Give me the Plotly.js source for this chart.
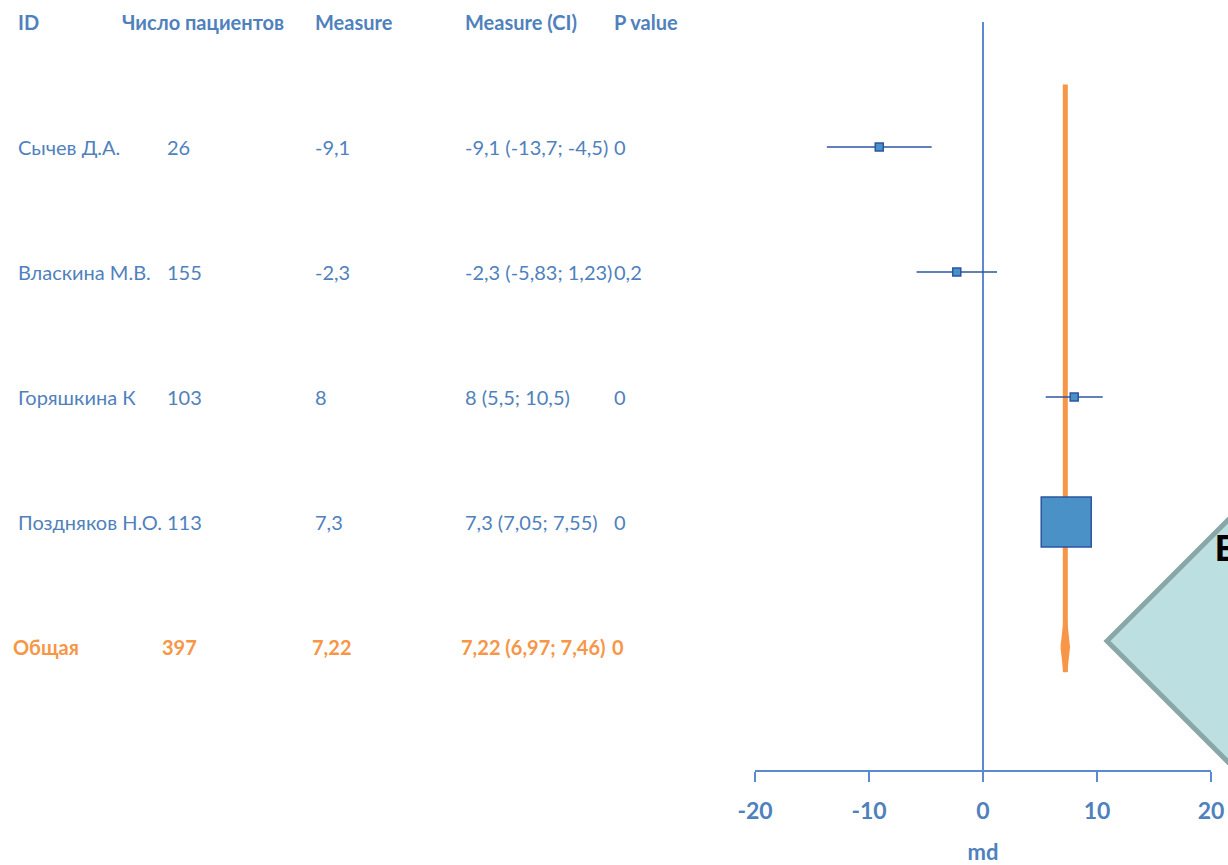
<!DOCTYPE html>
<html>
<head>
<meta charset="utf-8">
<script src="https://cdn.plot.ly/plotly-3.0.1.min.js"></script>
<style>
html,body{margin:0;padding:0;background:#fff;}
#chart{width:1228px;height:865px;}
</style>
</head>
<body>
<div id="chart"></div>
<script>
// ---- data ----
const headers = ["ID", "Число пациентов", "Measure", "Measure (CI)", "P value"];
const studies = ["Сычев Д.А.", "Власкина М.В.", "Горяшкина К", "Поздняков Н.О."];
const patients = [26, 155, 103, 113];
const measure = [-9.1, -2.3, 8, 7.3];
const ciLow = [-13.7, -5.83, 5.5, 7.05];
const ciHigh = [-4.5, 1.23, 10.5, 7.55];
const measureText = ["-9,1", "-2,3", "8", "7,3"];
const ciText = ["-9,1 (-13,7; -4,5)", "-2,3 (-5,83; 1,23)", "8 (5,5; 10,5)", "7,3 (7,05; 7,55)"];
const pText = ["0", "0,2", "0", "0"];
const overallLabel = "Общая";
const overallN = 397;
const overall = 7.22;
const overallLow = 6.97;
const overallHigh = 7.46;
const overallMeasureText = "7,22";
const overallCiText = "7,22 (6,97; 7,46)";
const overallP = "0";
const xTicks = [-20, -10, 0, 10, 20];

// ---- layout helpers ----
const W = 1228, H = 865;
const L = 755, R = 1211, T = 22, B = 770;
const px = v => (v - L) / (R - L);
const py = v => (B - v) / (B - T);
const blue = "#4F81BD";
const orange = "#F79646";
const FONT = "Lato, 'Open Sans', sans-serif";

const rows = studies.map((_, i) => i + 1);
const overallRow = studies.length + 1;

const traces = [
  {
    x: [overall, overall],
    y: [0.5, overallRow + 0.2],
    mode: "lines",
    line: {color: orange, width: 5},
    hoverinfo: "skip",
    showlegend: false
  },
  {
    x: [overallLow, overall, overallHigh, overall, overallLow],
    y: [overallRow, overallRow - 0.2, overallRow, overallRow + 0.2, overallRow],
    mode: "lines",
    fill: "toself",
    fillcolor: orange,
    line: {color: orange, width: 4},
    hoverinfo: "skip",
    showlegend: false
  },
  {
    x: measure,
    y: rows,
    mode: "markers",
    marker: {
      symbol: "square",
      size: [8, 8, 8, 50],
      opacity: 1,
      color: "#4A91C7",
      line: {color: "#2A55A0", width: 1.5}
    },
    error_x: {
      type: "data",
      symmetric: false,
      array: measure.map((m, i) => ciHigh[i] - m),
      arrayminus: measure.map((m, i) => m - ciLow[i]),
      color: "#2F55A3",
      thickness: 1.5,
      width: 0
    },
    showlegend: false
  }
];

const annotations = [];
const colX = [16, 120, 313, 463, 612];
headers.forEach((h, j) => {
  annotations.push({xref: "paper", yref: "y", x: px(colX[j]), y: 0, text: "<b>" + h + "</b>",
    showarrow: false, xanchor: "left", yanchor: "middle",
    font: {family: FONT, size: 20, color: blue}});
});
const dataX = [16, 165, 313, 463, 612];
studies.forEach((s, i) => {
  const vals = [s, String(patients[i]), measureText[i], ciText[i], pText[i]];
  vals.forEach((v, j) => {
    annotations.push({xref: "paper", yref: "y", x: px(dataX[j]), y: rows[i], text: v,
      showarrow: false, xanchor: "left", yanchor: "middle",
      font: {family: FONT, size: 20, color: blue}});
  });
});
const ovX = [11, 160, 310, 459, 610];
[overallLabel, String(overallN), overallMeasureText, overallCiText, overallP].forEach((v, j) => {
  annotations.push({xref: "paper", yref: "y", x: px(ovX[j]), y: overallRow, text: "<b>" + v + "</b>",
    showarrow: false, xanchor: "left", yanchor: "middle",
    font: {family: FONT, size: 20, color: orange}});
});
annotations.push({xref: "paper", yref: "paper", x: px(1213), y: py(548), text: "<b>E</b>",
  showarrow: false, xanchor: "left", yanchor: "middle",
  font: {family: "'Liberation Sans', Arial, sans-serif", size: 36, color: "#000"}});

const d = 220;
const shapes = [
  {
    type: "path", xref: "paper", yref: "paper", layer: "above",
    path: `M ${px(1107)} ${py(641)} L ${px(1107 + d)} ${py(641 - d)} L ${px(1107 + 2 * d)} ${py(641)} L ${px(1107 + d)} ${py(641 + d)} Z`,
    fillcolor: "#BCE0E2",
    line: {color: "#8AA7A8", width: 5}
  }
];

const layout = {
  width: W, height: H,
  margin: {l: L, r: W - R, t: T, b: H - B},
  paper_bgcolor: "#fff",
  plot_bgcolor: "#fff",
  showlegend: false,
  xaxis: {
    range: [-20, 20],
    tickvals: xTicks,
    ticktext: xTicks.map(String),
    ticks: "outside",
    ticklen: 10,
    tickwidth: 1.5,
    tickcolor: "#5B8AD0",
    ticklabelstandoff: 10,
    showline: true,
    linecolor: "#5B8AD0",
    linewidth: 1.5,
    showgrid: false,
    zeroline: true,
    zerolinecolor: "#5B8AD0",
    zerolinewidth: 1.5,
    tickfont: {family: FONT, size: 23, color: blue, weight: "bold"},
    title: {text: "<b>md</b>", font: {family: FONT, size: 22, color: blue}, standoff: 22},
    fixedrange: true
  },
  yaxis: {
    range: [(B - T) / 125, 0],
    visible: false,
    showgrid: false,
    zeroline: false,
    fixedrange: true
  },
  annotations: annotations,
  shapes: shapes
};

Plotly.newPlot("chart", traces, layout, {displayModeBar: false, staticPlot: true});
</script>
</body>
</html>
